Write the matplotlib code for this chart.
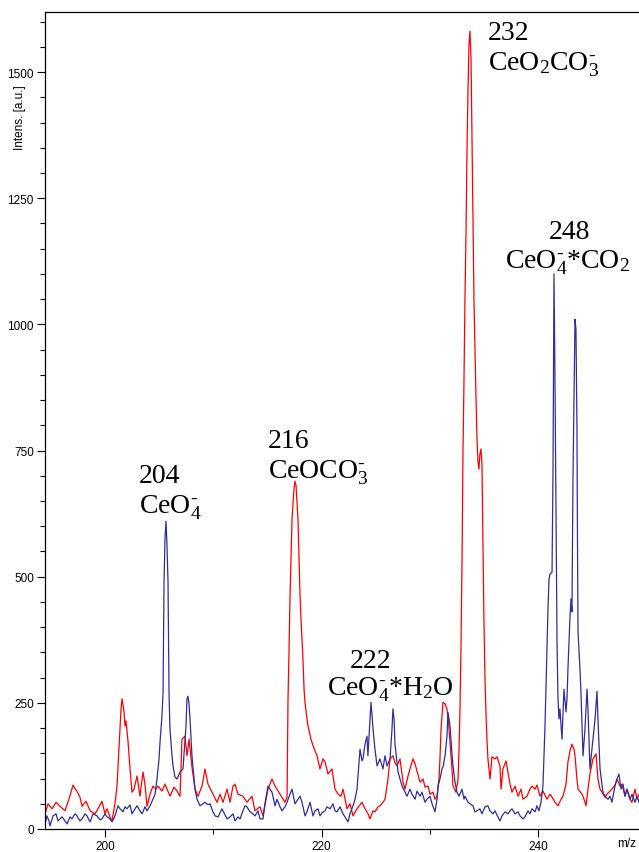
"""
Mass spectrum: two overlaid traces (red, blue) with peak assignments.
"""
import matplotlib
matplotlib.use("Agg")
import matplotlib.pyplot as plt
from matplotlib.ticker import MultipleLocator

plt.rcParams.update({
    "font.family": ["Liberation Sans", "DejaVu Sans"],
    "mathtext.fontset": "custom",
    "mathtext.rm": "Liberation Serif",
    "mathtext.it": "Liberation Serif:italic",
})

# red trace (m/z, intensity)
RED_MZ = [
    194.46, 194.74, 195.11, 195.48, 195.85, 196.31, 196.68, 197.05, 197.23, 197.41,
    197.69, 197.88, 198.25, 198.62, 199.08, 199.45, 199.72, 200.00, 200.19, 200.46,
    200.65, 200.92, 201.11, 201.29, 201.48, 201.57, 201.75, 201.85, 201.94, 202.12,
    202.31, 202.49, 202.68, 202.96, 203.23, 203.51, 203.69, 203.88, 204.16, 204.43,
    204.71, 204.89, 205.26, 205.54, 206.00, 206.37, 206.65, 206.93, 207.11, 207.39,
    207.57, 207.76, 208.03, 208.31, 208.59, 208.96, 209.23, 209.51, 209.88, 210.34,
    210.62, 210.90, 211.27, 211.54, 211.82, 212.00, 212.28, 212.74, 213.11, 213.57,
    213.85, 214.31, 214.59, 214.77, 215.05, 215.42, 215.70, 216.16, 216.62, 216.81,
    216.90, 216.99, 217.08, 217.27, 217.45, 217.54, 217.64, 217.82, 218.01, 218.10,
    218.19, 218.28, 218.38, 218.47, 218.65, 218.75, 219.02, 219.21, 219.58, 219.85,
    220.13, 220.32, 220.59, 220.96, 221.24, 221.52, 221.79, 221.98, 222.35, 222.62,
    222.90, 223.27, 223.55, 223.73, 224.01, 224.29, 224.47, 224.75, 224.93, 225.21,
    225.39, 225.67, 225.86, 226.13, 226.32, 226.60, 226.78, 226.96, 227.24, 227.52,
    227.70, 227.98, 228.16, 228.44, 228.63, 228.81, 229.09, 229.37, 229.55, 229.83,
    230.01, 230.29, 230.47, 230.66, 230.84, 230.93, 231.03, 231.21, 231.40, 231.58,
    231.77, 231.86, 232.04, 232.14, 232.41, 232.60, 232.69, 232.78, 232.87, 232.97,
    233.06, 233.15, 233.24, 233.34, 233.43, 233.52, 233.61, 233.70, 233.80, 233.89,
    233.98, 234.07, 234.16, 234.26, 234.35, 234.44, 234.53, 234.62, 234.72, 234.81,
    234.90, 234.99, 235.09, 235.18, 235.27, 235.36, 235.55, 235.64, 235.73, 236.01,
    236.20, 236.47, 236.57, 236.75, 237.03, 237.21, 237.40, 237.58, 237.86, 238.14,
    238.41, 238.60, 238.97, 239.24, 239.43, 239.71, 239.89, 240.17, 240.45, 240.81,
    241.09, 241.28, 241.55, 241.83, 242.11, 242.29, 242.57, 242.75, 242.94, 243.12,
    243.31, 243.40, 243.58, 243.68, 244.05, 244.23, 244.42, 244.60, 244.78, 245.06,
    245.34, 245.52, 245.71, 245.89, 246.17, 246.35, 246.63, 246.81, 247.09, 247.28,
    247.56, 247.74, 248.02, 248.20, 248.48, 248.66, 248.94, 249.13, 249.31,
]
RED_I = [
    30, 50, 40, 53, 45, 36, 60, 87, 80, 75,
    63, 45, 55, 36, 30, 44, 55, 30, 40, 24,
    16, 50, 85, 158, 238, 258, 234, 204, 214, 175,
    119, 73, 79, 105, 65, 113, 89, 45, 69, 85,
    79, 85, 75, 89, 65, 83, 75, 65, 178, 184,
    145, 178, 123, 79, 65, 85, 119, 89, 73, 53,
    69, 53, 79, 53, 85, 89, 69, 65, 53, 65,
    36, 44, 26, 48, 79, 99, 85, 69, 53, 63,
    258, 350, 456, 614, 674, 689, 681, 614, 462, 416,
    376, 337, 277, 251, 218, 204, 178, 165, 145, 119,
    139, 133, 109, 119, 79, 69, 65, 79, 40, 50,
    26, 40, 48, 53, 40, 30, 20, 36, 34, 44,
    46, 53, 59, 99, 139, 145, 131, 125, 139, 93,
    79, 105, 119, 139, 129, 115, 93, 99, 83, 85,
    69, 73, 59, 65, 99, 139, 198, 251, 248, 238,
    198, 172, 119, 85, 73, 99, 158, 238, 357, 535,
    753, 891, 1050, 1189, 1347, 1466, 1555, 1581, 1525, 1367,
    1208, 1050, 951, 852, 773, 729, 713, 743, 753, 723,
    574, 416, 297, 228, 178, 139, 99, 119, 143, 139,
    143, 125, 79, 119, 135, 113, 89, 73, 85, 65,
    79, 59, 65, 79, 85, 79, 87, 65, 75, 59,
    69, 63, 53, 46, 59, 65, 89, 133, 155, 168,
    158, 145, 99, 79, 69, 59, 46, 79, 109, 139,
    149, 99, 79, 73, 63, 69, 75, 79, 87, 99,
    85, 89, 65, 79, 59, 53, 79, 59, 69,
]

# blue trace (m/z, intensity)
BLUE_MZ = [
    194.46, 194.64, 194.83, 194.92, 195.20, 195.48, 195.66, 196.03, 196.31, 196.49,
    196.77, 196.95, 197.23, 197.41, 197.69, 197.88, 198.15, 198.34, 198.62, 198.89,
    199.26, 199.54, 199.72, 200.00, 200.19, 200.46, 200.65, 200.92, 201.20, 201.39,
    201.66, 201.85, 202.03, 202.31, 202.49, 202.77, 202.96, 203.23, 203.42, 203.69,
    203.88, 204.16, 204.43, 204.62, 204.80, 204.99, 205.08, 205.17, 205.26, 205.36,
    205.45, 205.54, 205.63, 205.72, 205.82, 205.91, 206.00, 206.19, 206.28, 206.46,
    206.65, 206.93, 207.20, 207.39, 207.48, 207.57, 207.66, 207.76, 207.85, 208.03,
    208.22, 208.31, 208.50, 208.77, 209.05, 209.23, 209.51, 209.70, 209.97, 210.16,
    210.44, 210.80, 211.08, 211.27, 211.54, 211.82, 212.00, 212.28, 212.47, 212.74,
    212.93, 213.11, 213.39, 213.67, 213.85, 214.13, 214.31, 214.59, 214.77, 215.05,
    215.24, 215.42, 215.70, 215.88, 216.16, 216.34, 216.62, 216.81, 217.08, 217.27,
    217.54, 217.82, 218.01, 218.19, 218.47, 218.65, 218.93, 219.21, 219.39, 219.67,
    219.85, 220.04, 220.32, 220.50, 220.78, 221.05, 221.24, 221.42, 221.70, 221.98,
    222.16, 222.44, 222.62, 222.90, 223.09, 223.27, 223.36, 223.55, 223.73, 223.82,
    224.01, 224.19, 224.28, 224.47, 224.56, 224.65, 224.75, 224.93, 225.12, 225.39,
    225.67, 225.85, 226.04, 226.32, 226.50, 226.59, 226.69, 226.78, 227.06, 227.24,
    227.43, 227.70, 227.89, 228.16, 228.35, 228.63, 228.81, 229.09, 229.27, 229.55,
    229.73, 230.01, 230.20, 230.47, 230.66, 230.75, 230.93, 231.12, 231.21, 231.40,
    231.58, 231.67, 231.77, 231.86, 232.04, 232.14, 232.32, 232.50, 232.69, 232.97,
    233.15, 233.24, 233.52, 233.70, 233.98, 234.16, 234.35, 234.62, 234.81, 235.09,
    235.36, 235.55, 235.83, 236.01, 236.29, 236.47, 236.66, 236.94, 237.21, 237.40,
    237.58, 237.86, 238.14, 238.32, 238.60, 238.78, 239.06, 239.24, 239.43, 239.71,
    239.89, 240.07, 240.26, 240.44, 240.53, 240.63, 240.72, 240.81, 240.91, 241.00,
    241.09, 241.28, 241.37, 241.46, 241.55, 241.65, 241.74, 241.83, 241.92, 242.01,
    242.20, 242.38, 242.57, 242.66, 242.75, 242.94, 243.03, 243.12, 243.21, 243.31,
    243.40, 243.49, 243.58, 243.63, 243.68, 243.86, 243.95, 244.05, 244.14, 244.32,
    244.51, 244.60, 244.78, 244.97, 245.06, 245.25, 245.43, 245.52, 245.71, 245.98,
    246.17, 246.45, 246.63, 246.81, 247.09, 247.28, 247.46, 247.65, 247.83, 248.02,
    248.20, 248.48, 248.66, 248.94, 249.13, 249.31,
]
BLUE_I = [
    10, 26, 16, 6, 26, 30, 16, 24, 16, 10,
    24, 20, 30, 26, 16, 20, 30, 26, 14, 30,
    26, 18, 20, 30, 24, 20, 14, 26, 46, 40,
    34, 44, 40, 48, 30, 40, 46, 36, 30, 44,
    36, 46, 59, 69, 99, 139, 172, 198, 224, 271,
    489, 575, 610, 565, 489, 271, 198, 145, 125, 103,
    99, 113, 119, 178, 204, 258, 263, 248, 218, 145,
    99, 79, 59, 46, 50, 53, 48, 50, 34, 26,
    24, 40, 28, 20, 24, 30, 16, 24, 20, 36,
    46, 44, 34, 30, 26, 36, 20, 20, 50, 85,
    79, 73, 46, 59, 44, 36, 44, 53, 69, 79,
    50, 59, 65, 53, 26, 34, 53, 26, 36, 40,
    26, 32, 36, 44, 40, 50, 36, 34, 44, 30,
    24, 14, 30, 46, 59, 79, 105, 158, 135, 139,
    168, 184, 145, 218, 251, 228, 198, 158, 125, 139,
    119, 145, 125, 139, 198, 238, 218, 168, 113, 99,
    85, 73, 65, 79, 69, 59, 75, 65, 73, 53,
    59, 65, 50, 34, 59, 85, 99, 119, 123, 145,
    184, 231, 218, 204, 149, 125, 93, 73, 65, 79,
    59, 65, 53, 50, 46, 34, 36, 40, 30, 44,
    46, 36, 30, 36, 24, 16, 26, 34, 30, 36,
    40, 30, 34, 26, 20, 24, 36, 30, 40, 34,
    46, 36, 53, 85, 139, 204, 277, 357, 440, 495,
    505, 509, 713, 1100, 892, 628, 370, 258, 218, 238,
    178, 277, 232, 258, 317, 422, 456, 430, 687, 852,
    1010, 990, 798, 568, 390, 317, 271, 204, 145, 198,
    277, 238, 119, 158, 178, 218, 273, 218, 119, 73,
    65, 59, 65, 53, 85, 99, 109, 79, 89, 65,
    79, 59, 69, 53, 65, 53,
]

# peak assignments: (m/z left edge, baseline intensity, text)
LABEL_MZ = [203.14, 203.14, 215.05, 215.05, 222.62, 220.50, 235.37, 235.37, 241.00, 236.94]
LABEL_I = [687, 628, 757, 697, 321, 267, 1565, 1506, 1171, 1113]
HY = "\u2010"  # short hyphen for the charge sign
LABEL_TXT = [
    "204", r"CeO$\mathregular{_4^{%s}}$" % HY,
    "216", r"CeOCO$\mathregular{_3^{%s}}$" % HY,
    "222", r"CeO$\mathregular{_4^{%s}}$*H$\mathregular{_2}$O" % HY,
    "232", r"CeO$\mathregular{_2}$CO$\mathregular{_3^{%s}}$" % HY,
    "248", r"CeO$\mathregular{_4^{%s}}$*CO$\mathregular{_2}$" % HY,
]

fig = plt.figure(figsize=(6.39, 8.53), dpi=100)
ax = fig.add_axes([45 / 639, 23 / 853, 594 / 639, 817 / 853])

ax.plot(RED_MZ, RED_I, color="#ff0000", lw=0.9)
ax.plot(BLUE_MZ, BLUE_I, color="#2e2e9c", lw=0.9)

ax.set_xlim(194.46, 249.31)
ax.set_ylim(0, 1619)

ax.xaxis.set_major_locator(MultipleLocator(20))
ax.xaxis.set_minor_locator(MultipleLocator(10))
ax.yaxis.set_major_locator(MultipleLocator(250))
ax.yaxis.set_minor_locator(MultipleLocator(50))
ax.tick_params(which="major", length=6, width=0.8, labelsize=8.5, pad=2)
ax.tick_params(which="minor", length=3.5, width=0.8)
ax.spines["right"].set_visible(False)
for s in ("left", "bottom", "top"):
    ax.spines[s].set_linewidth(0.9)

for x, y, t in zip(LABEL_MZ, LABEL_I, LABEL_TXT):
    ax.text(x, y, t, ha="left", va="baseline", fontsize=20,
            family="Liberation Serif")

fig.text(20 / 639, 1 - 118 / 853, "Intens. [a.u.]", rotation=90,
         ha="center", va="center", fontsize=8.5)
fig.text(627 / 639, 1 - 844 / 853, "m/z", ha="center", va="center", fontsize=8.5)

fig.savefig("out.png", dpi=100)
